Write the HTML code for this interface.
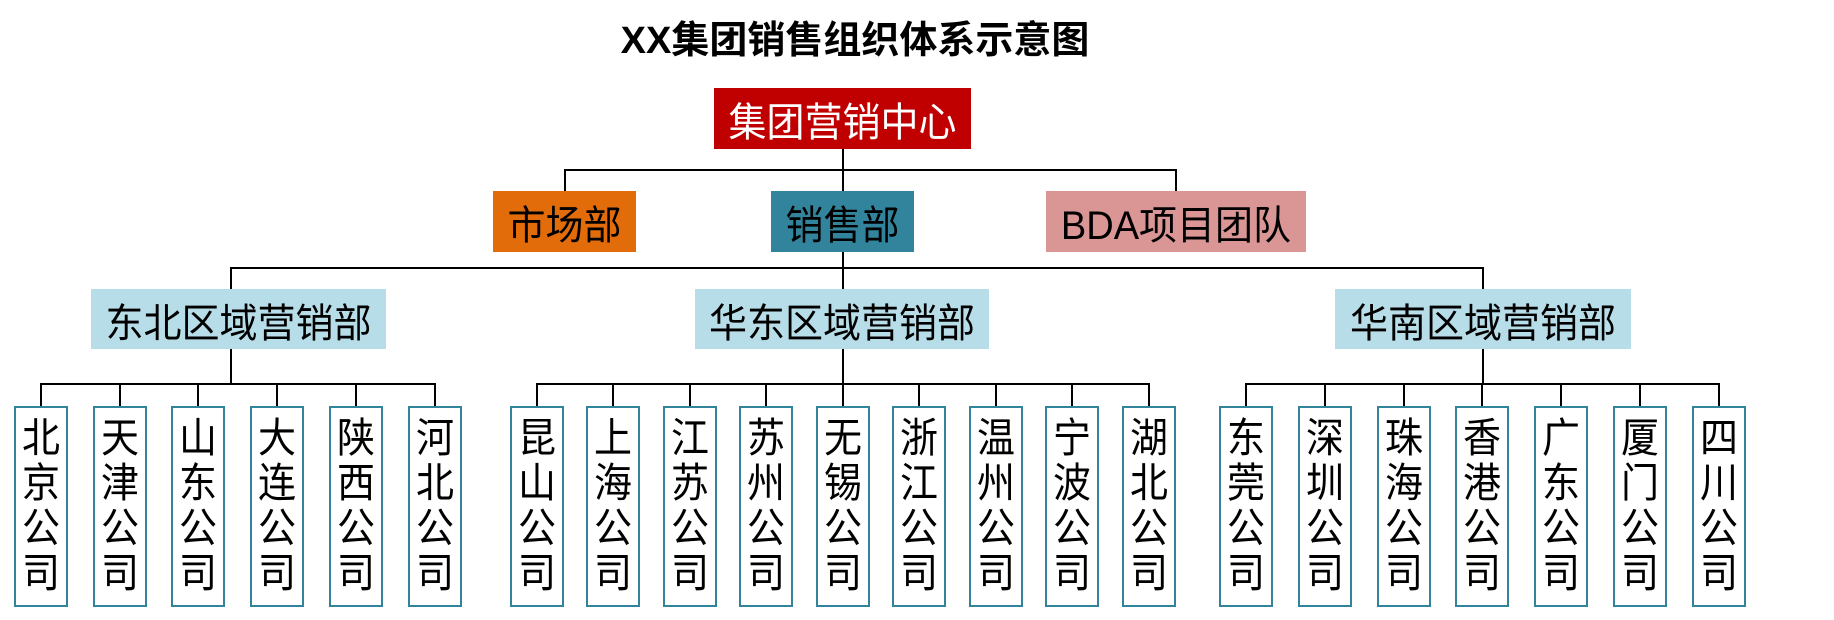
<!DOCTYPE html>
<html><head><meta charset="utf-8"><style>
body{margin:0;width:1834px;height:620px;background:#fff;position:relative;overflow:hidden;font-family:"Liberation Sans","Noto Sans CJK SC",sans-serif}
.b{position:absolute;display:flex;align-items:center;justify-content:center;font-size:38px;color:#000;white-space:nowrap}
.b i{font-style:normal;display:inline-block;transform:scaleY(1.05)}
.l{position:absolute;background:#000}
.c{position:absolute;top:406px;height:197px;width:50px;border:2px solid #31849b;box-sizing:content-box;font-size:38px;line-height:45px;text-align:center;display:flex;flex-direction:column;align-items:center;justify-content:center}
.c span{display:block;height:45px;transform:scaleY(1.08)}
</style></head><body>
<div class="b" style="left:600px;top:14px;width:510px;height:44px;font-weight:bold;font-size:38px">XX集团销售组织体系示意图</div>

<div class="b" style="left:714px;top:88px;width:257px;height:61px;background:#c00000;color:#fff"><i>集团营销中心</i></div>
<div class="l" style="left:842px;top:149px;width:2px;height:42px"></div>
<div class="l" style="left:564px;top:169px;width:613px;height:2px"></div>
<div class="l" style="left:564px;top:169px;width:2px;height:22px"></div>
<div class="l" style="left:1175px;top:169px;width:2px;height:22px"></div>

<div class="b" style="left:493px;top:191px;width:143px;height:61px;background:#e36c0a"><i>市场部</i></div>
<div class="b" style="left:771px;top:191px;width:143px;height:61px;background:#31849b"><i>销售部</i></div>
<div class="b" style="left:1046px;top:191px;width:260px;height:61px;background:#d99694"><i>BDA项目团队</i></div>

<div class="l" style="left:842px;top:252px;width:2px;height:37px"></div>
<div class="l" style="left:230px;top:267px;width:1254px;height:2px"></div>
<div class="l" style="left:230px;top:267px;width:2px;height:22px"></div>
<div class="l" style="left:1482px;top:267px;width:2px;height:22px"></div>

<div class="b" style="left:91px;top:289px;width:295px;height:60px;background:#b7dde8"><i>东北区域营销部</i></div>
<div class="b" style="left:695px;top:289px;width:294px;height:60px;background:#b7dde8"><i>华东区域营销部</i></div>
<div class="b" style="left:1335px;top:289px;width:296px;height:60px;background:#b7dde8"><i>华南区域营销部</i></div>

<div class="l" style="left:230px;top:349px;width:2px;height:35px"></div>
<div class="l" style="left:842px;top:349px;width:2px;height:57px"></div>
<div class="l" style="left:1482px;top:349px;width:2px;height:35px"></div>

<div class="l" style="left:41px;top:383px;width:395px;height:2px"></div>
<div class="l" style="left:536px;top:383px;width:614px;height:2px"></div>
<div class="l" style="left:1245px;top:383px;width:475px;height:2px"></div>

<div id="cs"></div>
<script>
var g=[
 [41,78.7,["北京","天津","山东","大连","陕西","河北"]],
 [536.5,76.5,["昆山","上海","江苏","苏州","无锡","浙江","温州","宁波","湖北"]],
 [1246,78.8,["东莞","深圳","珠海","香港","广东","厦门","四川"]]];
var h="";
g.forEach(function(r){r[2].forEach(function(n,i){var x=Math.round(r[0]+i*r[1]);
h+='<div class="l" style="left:'+(x-1)+'px;top:383px;width:2px;height:23px"></div>';
h+='<div class="c" style="left:'+(x-27)+'px"><span>'+n[0]+'</span><span>'+n[1]+'</span><span>公</span><span>司</span></div>';});});
document.getElementById("cs").innerHTML=h;
</script>
</body></html>
